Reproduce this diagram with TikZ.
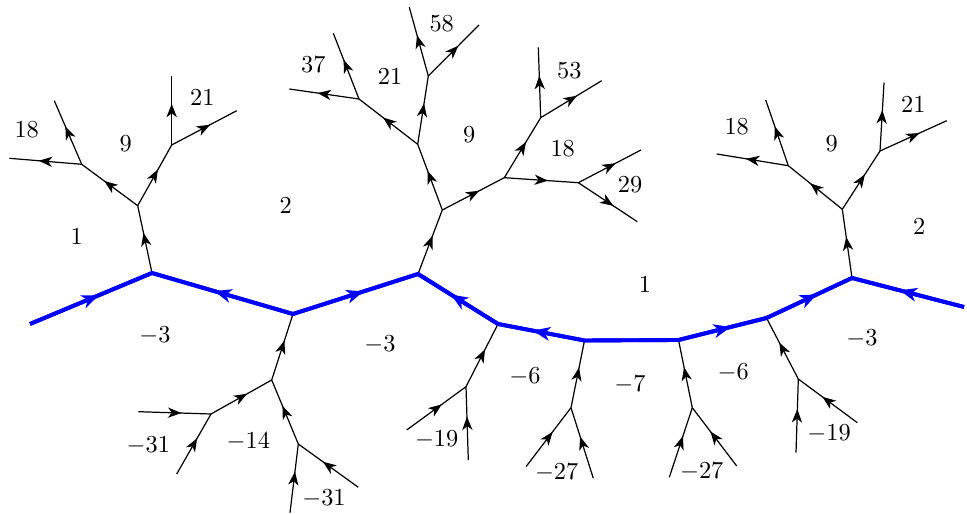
\documentclass[tikz,border=0pt]{standalone}
\usetikzlibrary{arrows.meta,decorations.markings}
\tikzset{
  edge/.style={line width=0.5pt},
  fw/.style={edge,postaction={decorate,decoration={markings,
     mark=at position 0.5 with {\arrow[xshift=2.75pt]{Stealth[length=5.5pt,width=4.2pt,inset=1.6pt]}}}}},
  bl/.style={line width=1.6pt,blue},
  bfw/.style={bl,postaction={decorate,decoration={markings,
     mark=at position 0.5 with {\arrow[xshift=3.5pt,blue]{Stealth[length=7pt,width=5.6pt,inset=2pt]}}}}},
  lab/.style={inner sep=0pt,font=\normalsize}
}
\begin{document}
\begin{tikzpicture}[x=0.41pt,y=-0.41pt]
\useasboundingbox (0,0) rectangle (967,514);
% main path vertices
\coordinate (s) at (30,324);
\coordinate (v1) at (152,273);
\coordinate (v2) at (293,314);
\coordinate (v3) at (418,274);
\coordinate (v4) at (498,324);
\coordinate (v5) at (584.5,340.5);
\coordinate (v6) at (678.5,340);
\coordinate (v7) at (766.5,318);
\coordinate (v8) at (852,278);
\coordinate (e) at (964,307);
% upper tree at v1
\coordinate (a) at (137.7,205.7);
\coordinate (b) at (81.7,164.3);
\coordinate (c) at (171.7,145);
\coordinate (b1) at (9.3,158.3);
\coordinate (b2) at (54.3,100.7);
\coordinate (c1) at (171.7,76);
\coordinate (c2) at (236.7,110.7);
% upper tree at v3
\coordinate (d) at (442.3,210);
\coordinate (ee) at (417.7,144.3);
\coordinate (f) at (504.3,177.7);
\coordinate (g) at (359,99);
\coordinate (h) at (428.3,76);
\coordinate (g1) at (289.3,89);
\coordinate (g2) at (333.3,33.3);
\coordinate (h1) at (409.3,7.3);
\coordinate (h2) at (479,25);
\coordinate (i) at (540.7,117.7);
\coordinate (j) at (578.3,182.7);
\coordinate (i1) at (538.3,47.3);
\coordinate (i2) at (601.7,80.7);
\coordinate (j1) at (641,150);
\coordinate (j2) at (637.3,221.7);
% upper tree at v8
\coordinate (k) at (842.3,209.3);
\coordinate (l) at (788.3,165.7);
\coordinate (m) at (880,151);
\coordinate (l1) at (716.7,154);
\coordinate (l2) at (765.7,100);
\coordinate (m1) at (884,82.7);
\coordinate (m2) at (946.7,120.7);
% lower tree at v2
\coordinate (n) at (271.7,380);
\coordinate (o) at (211,414);
\coordinate (p) at (298.3,444);
\coordinate (o1) at (138.3,411.7);
\coordinate (o2) at (176.7,474);
\coordinate (p1) at (290,512.7);
\coordinate (p2) at (358.3,487.3);
% lower tree at v4
\coordinate (q) at (466,386.7);
\coordinate (q1) at (406.7,430);
\coordinate (q2) at (468.3,460);
% lower tree at v5
\coordinate (r) at (571,407.7);
\coordinate (r1) at (526,466.7);
\coordinate (r2) at (593.3,478.3);
% lower tree at v6
\coordinate (u) at (692.3,407.7);
\coordinate (u1) at (669.3,477.3);
\coordinate (u2) at (736.7,466);
% lower tree at v7
\coordinate (t) at (798.3,379);
\coordinate (t1) at (796,452.7);
\coordinate (t2) at (857.3,422.7);

% black edges
\foreach \x/\y in {v1/a,a/b,a/c,b/b1,b/b2,c/c1,c/c2,
  v3/d,d/ee,d/f,ee/g,ee/h,g/g1,g/g2,h/h1,h/h2,f/i,f/j,i/i1,i/i2,j/j1,j/j2,
  v8/k,k/l,k/m,l/l1,l/l2,m/m1,m/m2,
  n/v2,o/n,p/n,o1/o,o2/o,p1/p,p2/p,
  q/v4,q1/q,q2/q,
  r/v5,r1/r,r2/r,
  u/v6,u1/u,u2/u,
  t/v7,t1/t,t2/t}
  \draw[fw] (\x) -- (\y);

% blue path
\draw[bfw] (s) -- (v1);
\draw[bfw] (v2) -- (v1);
\draw[bfw] (v2) -- (v3);
\draw[bfw] (v4) -- (v3);
\draw[bfw] (v5) -- (v4);
\draw[bl] (v5) -- (v6);
\draw[bfw] (v6) -- (v7);
\draw[bfw] (v7) -- (v8);
\draw[bfw] (e) -- (v8);
\draw[bl,line join=round] (s) -- (v1) -- (v2) -- (v3) -- (v4) -- (v5) -- (v6) -- (v7) -- (v8) -- (e);

% labels
\node[lab] (L1) at (26.7,130) {18};
\node[lab] (L2) at (125.7,143.3) {9};
\node[lab] (L3) at (202.3,97.3) {21};
\node[lab] (L4) at (76.7,236.7) {1};
\node[lab] (L5) at (285.7,205.7) {2};
\node[lab] (L6) at (155,336) {$-3$};
\node[lab] (L7) at (313.3,64.3) {37};
\node[lab] (L8) at (441.7,24) {58};
\node[lab] (L9) at (390,76.7) {21};
\node[lab] (L10) at (469.3,135) {9};
\node[lab] (L11) at (569.3,71) {53};
\node[lab] (L12) at (562.7,149) {18};
\node[lab] (L13) at (630,185) {29};
\node[lab] (L14) at (645,284) {1};
\node[lab] (L15) at (380,345) {$-3$};
\node[lab] (L16) at (736.7,126.7) {18};
\node[lab] (L17) at (831.7,143.3) {9};
\node[lab] (L18) at (913.3,104.3) {21};
\node[lab] (L19) at (919.3,226) {2};
\node[lab] (L20) at (862,339) {$-3$};
\node[lab] (L21) at (148.3,446) {$-31$};
\node[lab] (L22) at (248.3,441.7) {$-14$};
\node[lab] (L23) at (324,498.3) {$-31$};
\node[lab] (L24) at (436.7,440) {$-19$};
\node[lab] (L25) at (525,376.7) {$-6$};
\node[lab] (L26) at (556.7,472.7) {$-27$};
\node[lab] (L27) at (630,384.3) {$-7$};
\node[lab] (L28) at (701.7,471.7) {$-27$};
\node[lab] (L29) at (733.3,372.7) {$-6$};
\node[lab] (L30) at (829,434) {$-19$};
\end{tikzpicture}
\end{document}
